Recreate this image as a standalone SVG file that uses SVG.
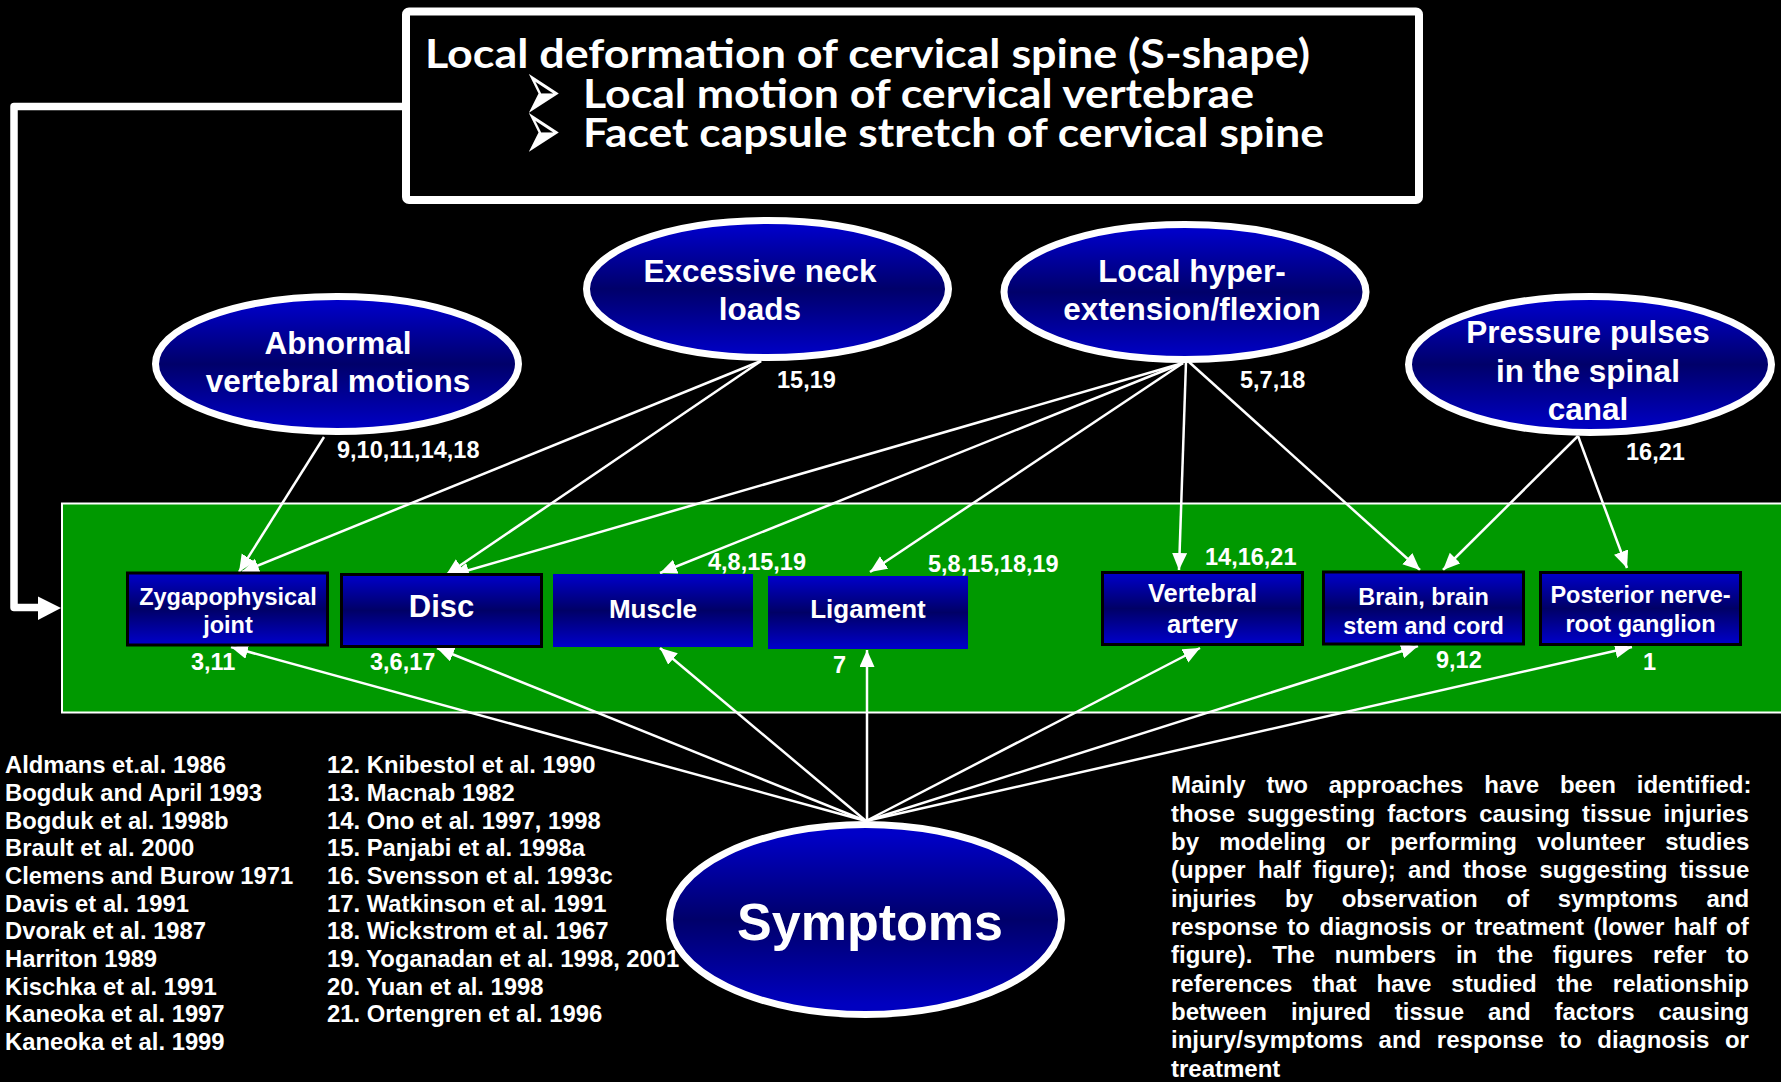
<svg xmlns="http://www.w3.org/2000/svg" width="1781" height="1082" viewBox="0 0 1781 1082">
  <defs>
    <linearGradient id="blueBox" x1="0" y1="0" x2="0" y2="1">
      <stop offset="0" stop-color="#0000CC"/>
      <stop offset="0.5" stop-color="#000066"/>
      <stop offset="1" stop-color="#0000CC"/>
    </linearGradient>
    <linearGradient id="blueOval" x1="0" y1="0" x2="0" y2="1">
      <stop offset="0.05" stop-color="#0000C8"/>
      <stop offset="0.5" stop-color="#00006A"/>
      <stop offset="0.95" stop-color="#0000C0"/>
    </linearGradient>
    <marker id="tip" markerUnits="userSpaceOnUse" markerWidth="18" markerHeight="16" refX="17" refY="7.5" orient="auto">
      <path d="M0,0 L17,7.5 L0,15 z" fill="#FFFFFF"/>
    </marker>
    <style>
      .sans { font-family: "Liberation Sans", Arial, sans-serif; font-weight: bold; fill: #FFFFFF; }
      .title { font-family: Lato, "Open Sans", sans-serif; font-weight: bold; fill: #FFFFFF; font-size: 40px; }
      .bullet { font-family: "DejaVu Sans", sans-serif; fill: #FFFFFF; font-size: 44px; }
      .oval { fill: url(#blueOval); stroke: #FFFFFF; stroke-width: 7; }
      .box { fill: url(#blueBox); }
      .edged { stroke: #000000; stroke-width: 3; }
      .ovalText { font-size: 31.5px; text-anchor: middle; }
      .boxText { font-size: 23.5px; text-anchor: middle; }
      .num { font-size: 23.5px; }
      .ref { font-size: 23.8px; }
      .para { font-size: 24px; }
      .link { stroke: #FFFFFF; stroke-width: 2.5; fill: none; marker-end: url(#tip); }
    </style>
  </defs>

  <rect x="0" y="0" width="1781" height="1082" fill="#000000"/>

  <!-- tissue band -->
  <rect id="tissue-band" x="62" y="503.5" width="1730" height="209" fill="#009900" stroke="#FFFFFF" stroke-width="2"/>

  <!-- heading box -->
  <g id="heading">
    <rect x="406" y="11.5" width="1013" height="188.5" rx="3" fill="#000000" stroke="#FFFFFF" stroke-width="8"/>
    <text class="title" x="425" y="68" textLength="885" lengthAdjust="spacingAndGlyphs">Local deformation of cervical spine (S-shape)</text>
    <!-- arrowhead bullets, stretched vertically -->
    <text class="bullet" x="524" y="60.4" transform="scale(1,2)">➢</text>
    <text class="title" x="583" y="108" textLength="671" lengthAdjust="spacingAndGlyphs">Local motion of cervical vertebrae</text>
    <text class="bullet" x="524" y="79.9" transform="scale(1,2)">➢</text>
    <text class="title" x="583" y="147" textLength="741" lengthAdjust="spacingAndGlyphs">Facet capsule stretch of cervical spine</text>
  </g>

  <!-- connectors -->
  <g id="connectors">
    <polyline points="403,106.5 14,106.5 14,607.5 40,607.5" fill="none" stroke="#FFFFFF" stroke-width="7.5" stroke-linejoin="round"/>
    <polygon points="38,596.5 61,608 38,620" fill="#FFFFFF"/>

    <!-- causes to tissues -->
    <line class="link" x1="324" y1="437" x2="239" y2="572"/>
    <line class="link" x1="761" y1="361" x2="242" y2="572"/>
    <line class="link" x1="761" y1="361" x2="446" y2="575"/>
    <line class="link" x1="1183" y1="363" x2="452" y2="575"/>
    <line class="link" x1="1183" y1="363" x2="660" y2="573"/>
    <line class="link" x1="1183" y1="363" x2="870" y2="572"/>
    <line class="link" x1="1186" y1="362" x2="1179" y2="570"/>
    <line class="link" x1="1189" y1="362" x2="1420" y2="570"/>
    <line class="link" x1="1578" y1="436" x2="1443" y2="570"/>
    <line class="link" x1="1578" y1="436" x2="1627" y2="568"/>

    <!-- symptoms to tissues -->
    <line class="link" x1="866" y1="821" x2="231" y2="647"/>
    <line class="link" x1="866" y1="821" x2="437" y2="648"/>
    <line class="link" x1="866" y1="821" x2="660" y2="648"/>
    <line class="link" x1="867" y1="821" x2="867" y2="650"/>
    <line class="link" x1="866" y1="821" x2="1200" y2="648"/>
    <line class="link" x1="866" y1="821" x2="1418" y2="646"/>
    <line class="link" x1="866" y1="821" x2="1632" y2="647"/>
  </g>

  <!-- cause ovals -->
  <g id="abnormal-motions">
    <ellipse class="oval" cx="337" cy="364" rx="181.5" ry="67.5"/>
    <text class="sans ovalText" x="338" y="354">Abnormal</text>
    <text class="sans ovalText" x="338" y="392">vertebral motions</text>
  </g>
  <g id="neck-loads">
    <ellipse class="oval" cx="767.5" cy="289" rx="181" ry="68.5"/>
    <text class="sans ovalText" x="760" y="282">Excessive neck</text>
    <text class="sans ovalText" x="760" y="320">loads</text>
  </g>
  <g id="hyper-extension">
    <ellipse class="oval" cx="1185" cy="292" rx="181" ry="67.5"/>
    <text class="sans ovalText" x="1192" y="282">Local hyper-</text>
    <text class="sans ovalText" x="1192" y="320">extension/flexion</text>
  </g>
  <g id="pressure-pulses">
    <ellipse class="oval" cx="1590" cy="364.5" rx="181.5" ry="68"/>
    <text class="sans ovalText" x="1588" y="343">Pressure pulses</text>
    <text class="sans ovalText" x="1588" y="382">in the spinal</text>
    <text class="sans ovalText" x="1588" y="420">canal</text>
  </g>

  <!-- tissue boxes -->
  <g id="zygapophysical-joint">
    <rect class="box edged" x="127.5" y="573" width="200" height="72"/>
    <text class="sans boxText" x="228" y="605">Zygapophysical</text>
    <text class="sans boxText" x="228" y="633">joint</text>
  </g>
  <g id="disc">
    <rect class="box edged" x="341.5" y="574.5" width="200" height="72"/>
    <text class="sans" x="441.5" y="617" font-size="31" text-anchor="middle">Disc</text>
  </g>
  <g id="muscle">
    <rect class="box" x="553" y="574" width="200" height="73"/>
    <text class="sans" x="653" y="618" font-size="26" text-anchor="middle">Muscle</text>
  </g>
  <g id="ligament">
    <rect class="box" x="768" y="576" width="200" height="73"/>
    <text class="sans" x="868" y="618" font-size="26" text-anchor="middle">Ligament</text>
  </g>
  <g id="vertebral-artery">
    <rect class="box edged" x="1102.5" y="572.5" width="200" height="72"/>
    <text class="sans" x="1202.5" y="602" font-size="25.5" text-anchor="middle">Vertebral</text>
    <text class="sans" x="1202.5" y="633" font-size="25.5" text-anchor="middle">artery</text>
  </g>
  <g id="brain-stem-cord">
    <rect class="box edged" x="1323.5" y="572" width="200" height="72"/>
    <text class="sans boxText" x="1423.5" y="605">Brain, brain</text>
    <text class="sans boxText" x="1423.5" y="634">stem and cord</text>
  </g>
  <g id="nerve-root-ganglion">
    <rect class="box edged" x="1540.5" y="572.5" width="200" height="72"/>
    <text class="sans boxText" x="1640.5" y="603">Posterior nerve-</text>
    <text class="sans boxText" x="1640.5" y="632">root ganglion</text>
  </g>

  <!-- symptoms oval -->
  <g id="symptoms">
    <ellipse class="oval" cx="865.5" cy="919.5" rx="196" ry="95"/>
    <text class="sans" x="870" y="940" font-size="52" text-anchor="middle">Symptoms</text>
  </g>

  <!-- reference numbers on the links -->
  <g id="link-numbers" class="sans num">
    <text x="337" y="458">9,10,11,14,18</text>
    <text x="777" y="388">15,19</text>
    <text x="1240" y="388">5,7,18</text>
    <text x="1626" y="460">16,21</text>
    <text x="708" y="570">4,8,15,19</text>
    <text x="928" y="572">5,8,15,18,19</text>
    <text x="1205" y="565">14,16,21</text>
    <text x="191" y="670">3,11</text>
    <text x="370" y="670">3,6,17</text>
    <text x="833" y="673">7</text>
    <text x="1436" y="668">9,12</text>
    <text x="1643" y="670">1</text>
  </g>

  <!-- reference list -->
  <g id="references" class="sans ref">
    <text x="5" y="773">Aldmans et.al. 1986</text>
    <text x="5" y="801">Bogduk and April 1993</text>
    <text x="5" y="829">Bogduk et al. 1998b</text>
    <text x="5" y="856">Brault et al. 2000</text>
    <text x="5" y="884">Clemens and Burow 1971</text>
    <text x="5" y="912">Davis et al. 1991</text>
    <text x="5" y="939">Dvorak et al. 1987</text>
    <text x="5" y="967">Harriton 1989</text>
    <text x="5" y="995">Kischka et al. 1991</text>
    <text x="5" y="1022">Kaneoka et al. 1997</text>
    <text x="5" y="1050">Kaneoka et al. 1999</text>
    <text x="327" y="773">12. Knibestol et al. 1990</text>
    <text x="327" y="801">13. Macnab 1982</text>
    <text x="327" y="829">14. Ono et al. 1997, 1998</text>
    <text x="327" y="856">15. Panjabi et al. 1998a</text>
    <text x="327" y="884">16. Svensson et al. 1993c</text>
    <text x="327" y="912">17. Watkinson et al. 1991</text>
    <text x="327" y="939">18. Wickstrom et al. 1967</text>
    <text x="327" y="967">19. Yoganadan et al. 1998, 2001</text>
    <text x="327" y="995">20. Yuan et al. 1998</text>
    <text x="327" y="1022">21. Ortengren et al. 1996</text>
  </g>

  <!-- explanatory paragraph, justified per line -->
  <g id="explanation" class="sans para">
    <text x="1171" y="793" word-spacing="14.2">Mainly two approaches have been identified:</text>
    <text x="1171" y="822" word-spacing="5.4">those suggesting factors causing tissue injuries</text>
    <text x="1171" y="850" word-spacing="13.5">by modeling or performing volunteer studies</text>
    <text x="1171" y="878" word-spacing="5.7">(upper half figure); and those suggesting tissue</text>
    <text x="1171" y="907" word-spacing="22">injuries by observation of symptoms and</text>
    <text x="1171" y="935" word-spacing="2.9">response to diagnosis or treatment (lower half of</text>
    <text x="1171" y="963" word-spacing="13.2">figure). The numbers in the figures refer to</text>
    <text x="1171" y="992" word-spacing="13.4">references that have studied the relationship</text>
    <text x="1171" y="1020" word-spacing="17.2">between injured tissue and factors causing</text>
    <text x="1171" y="1048" word-spacing="8.9">injury/symptoms and response to diagnosis or</text>
    <text x="1171" y="1077">treatment</text>
  </g>
</svg>
